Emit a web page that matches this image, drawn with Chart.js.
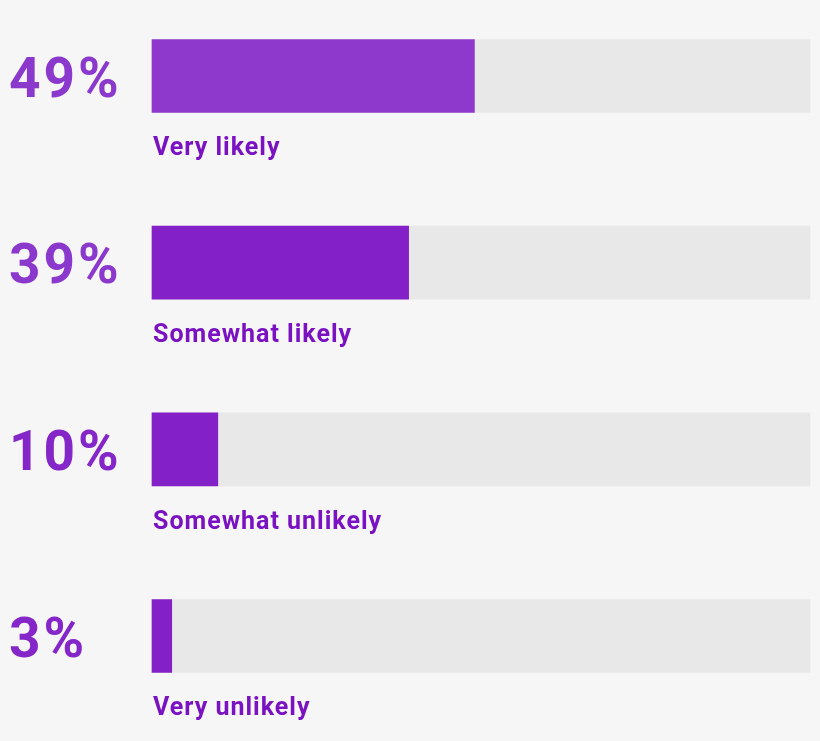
<!DOCTYPE html>
<html>
<head>
<meta charset="utf-8">
<script src="https://cdn.jsdelivr.net/npm/chart.js@4"></script>
<style>
  html, body { margin: 0; padding: 0; background: #f6f6f7; }
  #wrap { width: 820px; height: 741px; position: relative; }
</style>
</head>
<body>
<div id="wrap"><canvas id="c" width="820" height="741"></canvas></div>
<script>
const categories = ['Very likely', 'Somewhat likely', 'Somewhat unlikely', 'Very unlikely'];
const values = [49, 39, 10, 3];
const trackValues = [100, 100, 100, 100];
const pctLabels = ['49%', '39%', '10%', '3%'];

const barColors = ['#8f38cc', '#8420c8', '#8420c8', '#8420c8'];
const pctColors = ['#8b38cc', '#8b38cc', '#8426c8', '#8426c8'];
const nameColor = '#7a12c2';

const labelPlugin = {
  id: 'labels',
  afterDatasetsDraw(chart) {
    const ctx = chart.ctx;
    const ys = chart.scales.y;
    const left = chart.chartArea.left;
    ctx.save();
    categories.forEach((name, i) => {
      const y = ys.getPixelForValue(i);
      ctx.textBaseline = 'middle';
      ctx.textAlign = 'left';
      ctx.fillStyle = pctColors[i];
      ctx.font = 'bold 55px Roboto';
      ctx.letterSpacing = '3px';
      ctx.fillText(pctLabels[i], 9, y + 7);
      ctx.fillStyle = nameColor;
      ctx.font = 'bold 25px Roboto';
      ctx.letterSpacing = '1px';
      ctx.fillText(name, left + 1, y + 73);
    });
    ctx.restore();
  }
};

new Chart(document.getElementById('c'), {
  type: 'bar',
  data: {
    labels: categories,
    datasets: [
      { data: values, backgroundColor: barColors, barThickness: 73, grouped: false, order: 0, clip: false, borderWidth: 0 },
      { data: trackValues, backgroundColor: '#e8e8e8', barThickness: 73, grouped: false, order: 1, clip: false, borderWidth: 0 }
    ]
  },
  options: {
    indexAxis: 'y',
    responsive: false,
    animation: false,
    layout: { padding: { left: 152, right: 10, top: 76, bottom: 105 } },
    plugins: { legend: { display: false }, tooltip: { enabled: false } },
    scales: {
      x: { display: false, min: 0, max: 100 },
      y: { display: false, offset: false }
    }
  },
  plugins: [labelPlugin]
});
</script>
</body>
</html>
